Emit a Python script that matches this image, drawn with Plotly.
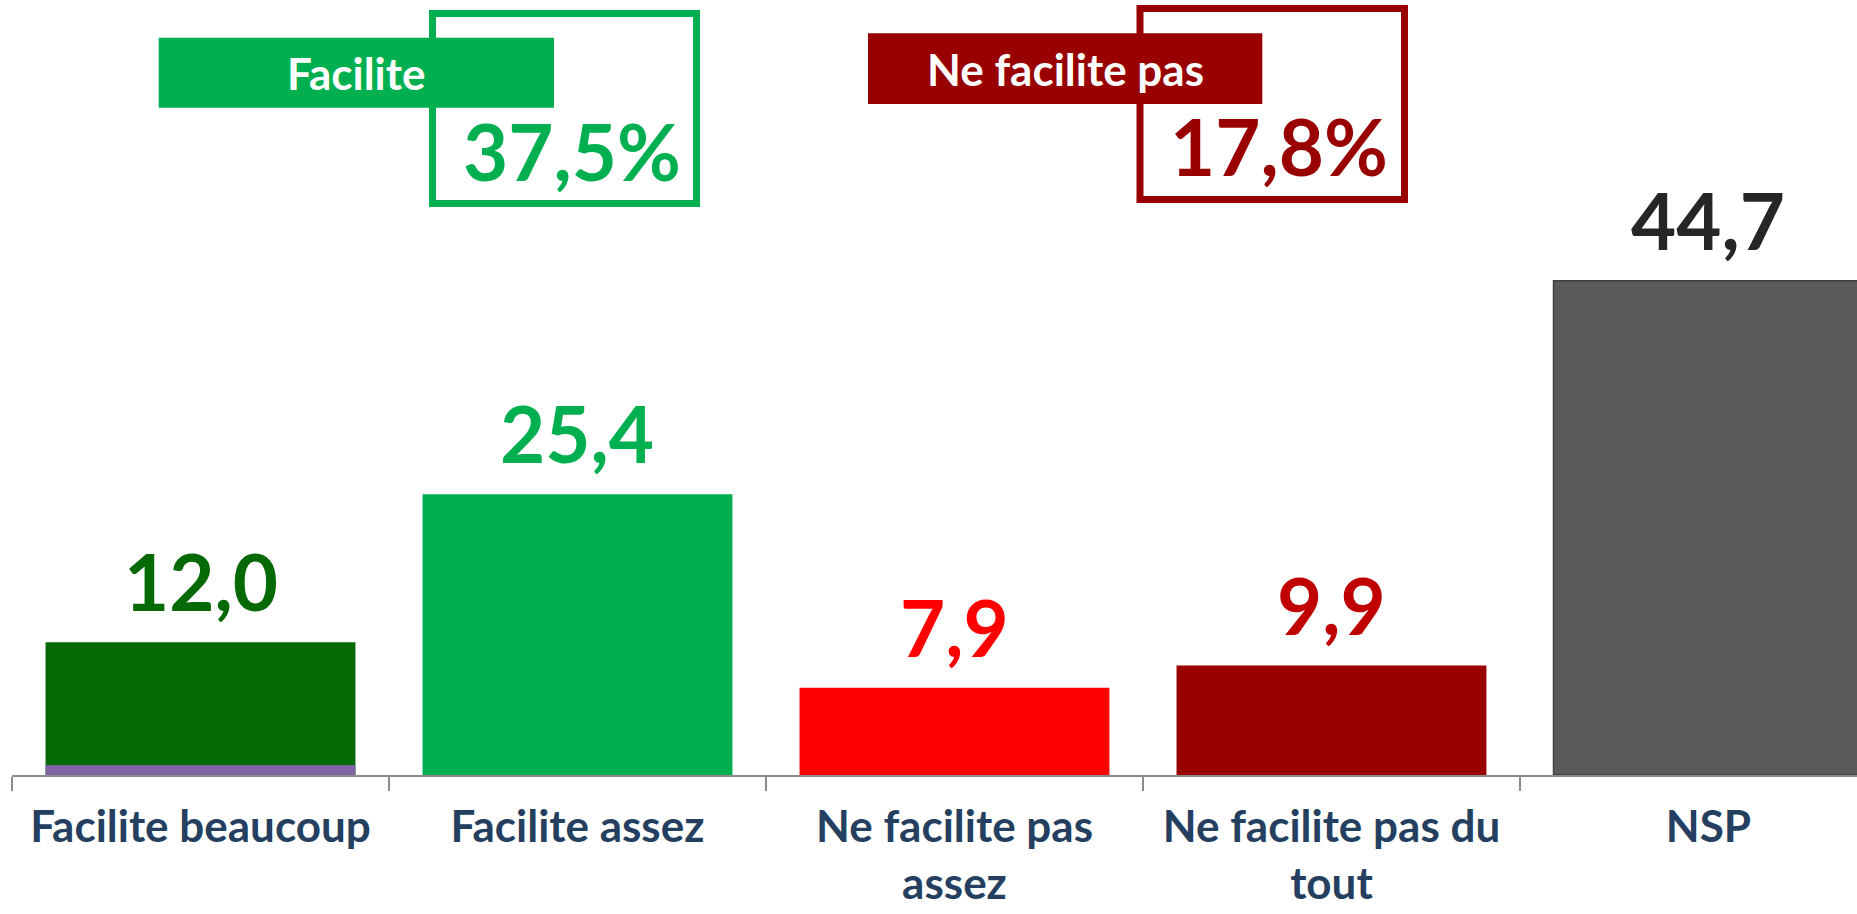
import plotly.graph_objects as go

# Survey answers and shares (%)
categories = ["Facilite beaucoup", "Facilite assez", "Ne facilite pas<br>assez",
              "Ne facilite pas du<br>tout", "NSP"]
values = [12.0, 25.4, 7.9, 9.9, 44.7]
base_segment = [0.9, None, None, None, None]

bar_colors = ["#056A05", "#00B050", "#FF0000", "#990000", "#595959"]
label_colors = ["#056A05", "#00B050", "#FF0000", "#C00000", "#262626"]

# Grouped totals shown in the framed boxes
group_names = ["Facilite", "Ne facilite pas"]
group_totals = [37.5, 17.8]
group_colors = ["#00B050", "#990000"]

W, H = 1857, 914
ML, MR, MT, MB = 12, 0, 0, 139
PW, PH = W - ML - MR, H - MT - MB


def px_x(x):
    return (x - ML) / PW


def px_y(y):
    return (H - MB - y) / PH


def fr(v):
    return f"{v:.1f}".replace(".", ",")


FONT = "Lato"

fig = go.Figure()
fig.add_trace(go.Bar(
    x=categories, y=values, width=0.822,
    marker=dict(color=bar_colors,
                line=dict(color=["rgba(0,0,0,0)"] * 4 + ["#3F3F3F"], width=1.5)),
    hoverinfo="skip", showlegend=False,
))
fig.add_trace(go.Bar(
    x=categories, y=base_segment, width=0.822,
    marker=dict(color="#8064A2", line=dict(width=0)),
    hoverinfo="skip", showlegend=False,
))

annotations = []
for cat, v, c in zip(categories, values, label_colors):
    annotations.append(dict(
        x=cat, y=v, xref="x", yref="y", text=fr(v), showarrow=False,
        yanchor="bottom", yshift=12,
        font=dict(family=FONT, size=78, color=c, weight="bold"),
    ))

shapes = []
# framed boxes (outline) with the filled title tab laid over their left edge
boxes = [
    dict(frame=(432.5, 13.5, 696.5, 203.5), tab=(158.7, 37.7, 554, 107.7),
         value_right=683),
    dict(frame=(1140, 8.5, 1404.5, 199.5), tab=(868, 33.3, 1262.3, 104),
         value_right=1390),
]
for b, name, tot, col in zip(boxes, group_names, group_totals, group_colors):
    fx0, fy0, fx1, fy1 = b["frame"]
    shapes.append(dict(type="rect", xref="paper", yref="paper",
                       x0=px_x(fx0), x1=px_x(fx1), y0=px_y(fy1), y1=px_y(fy0),
                       line=dict(color=col, width=7), fillcolor="rgba(0,0,0,0)",
                       layer="above"))
    tx0, ty0, tx1, ty1 = b["tab"]
    shapes.append(dict(type="rect", xref="paper", yref="paper",
                       x0=px_x(tx0), x1=px_x(tx1), y0=px_y(ty1), y1=px_y(ty0),
                       line=dict(width=0), fillcolor=col, layer="above"))
    annotations.append(dict(
        x=px_x((tx0 + tx1) / 2), y=px_y((ty0 + ty1) / 2), xref="paper", yref="paper",
        text=name, showarrow=False, xanchor="center", yanchor="middle",
        font=dict(family=FONT, size=44, color="white", weight="bold"),
    ))
    annotations.append(dict(
        x=px_x(b["value_right"]), y=px_y(fy1 - 4), xref="paper", yref="paper",
        text=fr(tot) + "%", showarrow=False, xanchor="right", yanchor="bottom",
        font=dict(family=FONT, size=78, color=col, weight="bold"),
    ))

fig.update_layout(
    width=W, height=H,
    margin=dict(l=ML, r=MR, t=MT, b=MB, pad=0, autoexpand=False),
    paper_bgcolor="white", plot_bgcolor="white",
    barmode="overlay",
    xaxis=dict(
        type="category", range=[-0.5, 4.394], automargin=False,
        tickson="boundaries", ticks="outside", ticklen=14, tickwidth=2,
        tickcolor="#8C8C8C", showline=True, linecolor="#8C8C8C", linewidth=2,
        showgrid=False, zeroline=False, ticklabelstandoff=12,
        tickfont=dict(family=FONT, size=44, color="#243F60", weight="bold"),
    ),
    yaxis=dict(range=[0, 70.1], visible=False, showgrid=False, zeroline=False,
               automargin=False),
    annotations=annotations,
    shapes=shapes,
)

fig.write_html("out.html")
